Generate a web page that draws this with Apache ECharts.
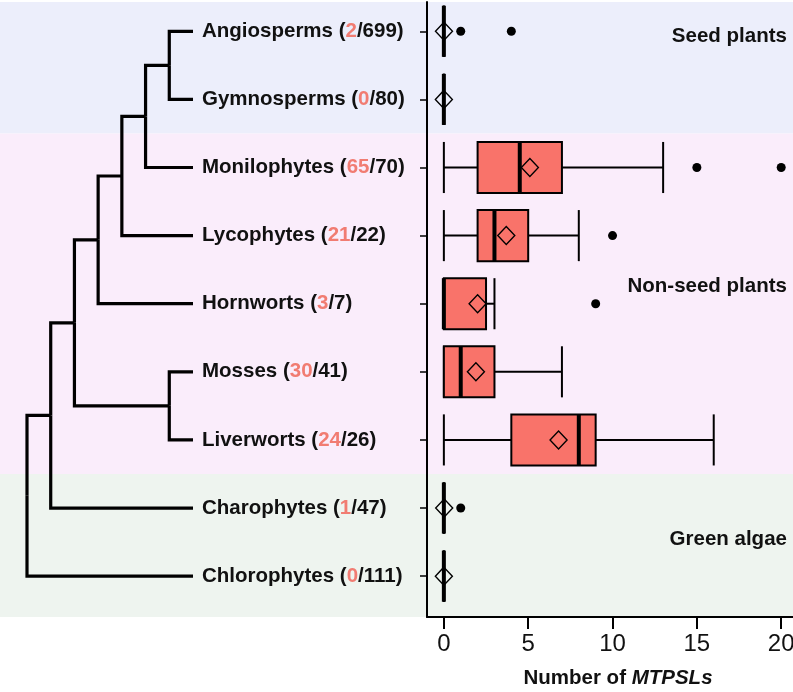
<!DOCTYPE html>
<html><head><meta charset="utf-8">
<script src="https://cdn.jsdelivr.net/npm/echarts@6/dist/echarts.min.js"></script>
<style>html,body{margin:0;padding:0;background:#fff}#c{width:793px;height:692px}</style>
</head><body><div id="c"></div><script>
// ---- data ----
const taxa = ['Angiosperms','Gymnosperms','Monilophytes','Lycophytes','Hornworts','Mosses','Liverworts','Charophytes','Chlorophytes'];
const withMTPSL = [2,0,65,21,3,30,24,1,0];
const totalGenomes = [699,80,70,22,7,41,26,47,111];
// [lower whisker, q1, median, q3, upper whisker]
const boxStats = [
  [0,0,0,0,0],
  [0,0,0,0,0],
  [0,2,4.5,7,13],
  [0,2,3,5,8],
  [0,0,0,2.5,3],
  [0,0,1,3,7],
  [0,4,8,9,16],
  [0,0,0,0,0],
  [0,0,0,0,0]
];
const means = [0.007,0,5.1,3.7,2.0,1.9,6.8,0.02,0];
const outlierRows = [0,0,2,2,3,4,7];
const outlierValues = [1,4,15,20,10,9,1];
// cladogram topology (leaf = row index)
const tree = [[[[[[[0,1],2],3],4],[5,6]],7],8];
const groups = ['Seed plants','Non-seed plants','Green algae'];
const groupFirstRow = [0,2,7];
const groupLastRow = [1,6,8];
const xTicks = [0,5,10,15,20];

// ---- build tree edges ----
const rawEdges = [];
function walk(node){
  if (typeof node === 'number') return {y:node, h:0};
  const kids = node.map(walk);
  const h = 1 + Math.max(...kids.map(k=>k.h));
  const y = (kids[0].y + kids[kids.length-1].y)/2;
  kids.forEach(k => rawEdges.push([h, y, k.h, k.y]));
  return {y, h};
}
const rootInfo = walk(tree);
const maxH = rootInfo.h;
const edges = rawEdges.map(e => [maxH - e[0], e[1], maxH - e[2], e[3]]);

const Y_MIN = -0.43, Y_MAX = 8.6;
const FONT = 'Liberation Sans, Arial, Helvetica, sans-serif';
const bandColors = ['#ECEEFB','#FAEDFB','#EEF4EF'];
const boxFill = '#F9736A';
const accent = '#F17C72';

const chart = echarts.init(document.getElementById('c'), null, {renderer:'canvas'});
const gridTop = 2, gridBottom = 75;

const option = {
  animation:false,
  backgroundColor:'#fff',
  grid:[
    {left:0, right:0, top:gridTop, bottom:gridBottom, outerBoundsMode:'none', containLabel:false},
    {left:27, width:166, top:gridTop, bottom:gridBottom, outerBoundsMode:'none', containLabel:false},
    {left:427, right:0, top:gridTop, bottom:gridBottom, outerBoundsMode:'none', containLabel:false}
  ],
  xAxis:[
    {gridIndex:0, type:'value', min:0, max:1, show:false},
    {gridIndex:1, type:'value', min:0, max:maxH, show:false},
    {gridIndex:2, type:'value', min:-1, max:20.7,
      axisLine:{show:true, onZero:false, lineStyle:{color:'#000', width:2}},
      axisTick:{show:true, customValues:xTicks, length:12, lineStyle:{color:'#000', width:2}},
      axisLabel:{show:true, customValues:xTicks, margin:15, fontSize:24, color:'#111', fontFamily:FONT},
      splitLine:{show:false},
      name:'{b|Number of }{i|MTPSLs}', nameLocation:'middle', nameGap:51,
      nameTextStyle:{padding:[0,0,0,16], rich:{
        b:{fontFamily:FONT, fontWeight:'bold', fontSize:20.5, color:'#111'},
        i:{fontFamily:FONT, fontWeight:'bold', fontStyle:'italic', fontSize:20.5, color:'#111'}
      }}
    }
  ],
  yAxis:[
    {gridIndex:0, type:'value', inverse:true, min:Y_MIN, max:Y_MAX, show:false},
    {gridIndex:1, type:'value', inverse:true, min:Y_MIN, max:Y_MAX, show:false},
    {gridIndex:2, type:'value', inverse:true, min:Y_MIN, max:Y_MAX,
      axisLine:{show:true, onZero:false, lineStyle:{color:'#000', width:2}},
      axisTick:{show:true, customValues:taxa.map((_,i)=>i), length:7, lineStyle:{color:'#000', width:1.5}},
      axisLabel:{show:true, customValues:taxa.map((_,i)=>i), margin:225, align:'left',
        formatter:(v)=>{const i=Math.round(v); return '{n|'+taxa[i]+' (}{r|'+withMTPSL[i]+'}{n|/'+totalGenomes[i]+')}';},
        rich:{
          n:{fontFamily:FONT, fontWeight:'bold', fontSize:20.5, color:'#111'},
          r:{fontFamily:FONT, fontWeight:'bold', fontSize:20.5, color:accent}
        }},
      splitLine:{show:false}
    }
  ],
  series:[
    { // background bands
      type:'custom', xAxisIndex:0, yAxisIndex:0, z:0, silent:true,
      data: groups.map((g,i)=>[0.5, groupFirstRow[i], groupLastRow[i], i]),
      encode:{x:0, y:[1,2]},
      renderItem:(params, api)=>{
        const cs = params.coordSys;
        const i = api.value(3);
        const top = i===0 ? cs.y : api.coord([0, api.value(1)-0.5])[1];
        const bot = i===groups.length-1 ? cs.y+cs.height : api.coord([0, api.value(2)+0.5])[1];
        return {type:'rect', shape:{x:0, y:top, width:793, height:bot-top}, style:{fill:bandColors[i]}};
      }
    },
    { // tree
      type:'custom', xAxisIndex:1, yAxisIndex:1, z:2, silent:true,
      data: edges, encode:{x:[0,2], y:[1,3]},
      renderItem:(params, api)=>{
        const a = api.coord([api.value(0), api.value(1)]);
        const b = api.coord([api.value(0), api.value(3)]);
        const c = api.coord([api.value(2), api.value(3)]);
        return {type:'polyline', shape:{points:[a,b,c]}, style:{stroke:'#000', lineWidth:3.2, fill:null, lineJoin:'miter', lineCap:'butt'}};
      }
    },
    { // boxes
      type:'custom', xAxisIndex:2, yAxisIndex:2, z:3, silent:true,
      data: boxStats.map((s,i)=>[i, ...s]), encode:{y:0, x:[1,2,3,4,5]},
      renderItem:(params, api)=>{
        const row = api.value(0);
        const pLo = api.coord([api.value(1), row]);
        const pQ1 = api.coord([api.value(2), row]);
        const pMed = api.coord([api.value(3), row]);
        const pQ3 = api.coord([api.value(4), row]);
        const pHi = api.coord([api.value(5), row]);
        const h = api.size([0,1])[1]*0.75;
        const yc = pLo[1], y0 = yc-h/2, y1 = yc+h/2;
        const ls = {stroke:'#000', lineWidth:2};
        return {type:'group', children:[
          {type:'line', shape:{x1:pLo[0],y1:yc,x2:pQ1[0],y2:yc}, style:ls},
          {type:'line', shape:{x1:pQ3[0],y1:yc,x2:pHi[0],y2:yc}, style:ls},
          {type:'line', shape:{x1:pLo[0],y1:y0,x2:pLo[0],y2:y1}, style:ls},
          {type:'line', shape:{x1:pHi[0],y1:y0,x2:pHi[0],y2:y1}, style:ls},
          {type:'rect', shape:{x:pQ1[0], y:y0, width:pQ3[0]-pQ1[0], height:h}, style:{fill:boxFill, stroke:'#000', lineWidth:2}},
          {type:'line', shape:{x1:pMed[0],y1:y0,x2:pMed[0],y2:y1}, style:{stroke:'#000', lineWidth:4}}
        ]};
      }
    },
    { // means
      type:'scatter', xAxisIndex:2, yAxisIndex:2, z:4, silent:true,
      data: means.map((m,i)=>[m,i]),
      symbol:'diamond', symbolSize:[17,18],
      itemStyle:{color:'rgba(0,0,0,0)', borderColor:'#000', borderWidth:1.4, opacity:1}
    },
    { // outliers
      type:'scatter', xAxisIndex:2, yAxisIndex:2, z:4, silent:true,
      data: outlierValues.map((v,i)=>[v, outlierRows[i]]),
      symbol:'circle', symbolSize:9, itemStyle:{color:'#000', opacity:1}
    },
    { // group labels
      type:'scatter', xAxisIndex:2, yAxisIndex:2, z:5, silent:true,
      data: groups.map((g,i)=>[20.37, [0.07,3.75,7.46][i], g]),
      symbolSize:1, itemStyle:{color:'rgba(0,0,0,0)', opacity:1},
      label:{show:true, position:'left', distance:0, formatter:(p)=>p.data[2],
        fontFamily:FONT, fontWeight:'bold', fontSize:20.5, color:'#111'}
    }
  ]
};
chart.setOption(option);
</script></body></html>
